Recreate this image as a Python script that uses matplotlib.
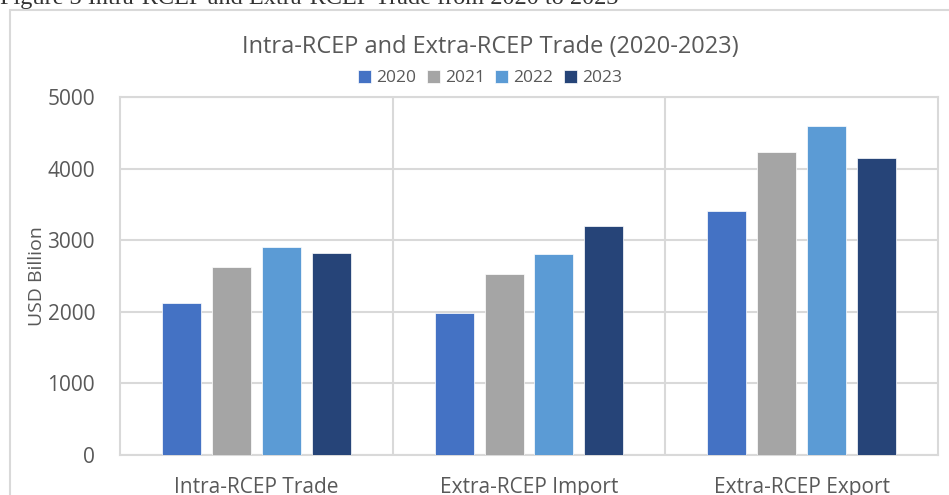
import numpy as np
import matplotlib.pyplot as plt
from matplotlib.patches import Rectangle

categories = ['Intra-RCEP Trade', 'Extra-RCEP Import', 'Extra-RCEP Export']
years = ['2020', '2021', '2022', '2023']
v2020 = [2120, 1980, 3410]
v2021 = [2630, 2530, 4225]
v2022 = [2910, 2810, 4600]
v2023 = [2815, 3205, 4150]
colors = ['#4472C4', '#A5A5A5', '#5B9BD5', '#264478']

plt.rcParams['font.family'] = ['Open Sans', 'DejaVu Sans']
txt = '#595959'
grid = '#D9D9D9'

fig = plt.figure(figsize=(9.49, 4.95), dpi=100)
W, H = 949, 495

# chart frame
fig.patches.append(Rectangle((10 / W, -0.1), 1.2, 1 - 10 / H + 0.1, transform=fig.transFigure,
                             fill=False, edgecolor=grid, linewidth=1.5))
# figure caption (cut off at top)
fig.text(0.0, 1 - 4 / H, 'Figure 3 Intra-RCEP and Extra-RCEP Trade from 2020 to 2023',
         family='Liberation Serif', fontsize=17.5, color='#333333', ha='left', va='baseline')

ax = fig.add_axes([120 / W, 40 / H, 818 / W, 358 / H])
x = np.arange(len(categories))
width = 0.143
step = 0.183
for i, vals in enumerate([v2020, v2021, v2022, v2023]):
    ax.bar(x + (i - 1.5) * step, vals, width, color=colors[i], label=years[i],
           edgecolor='white', linewidth=0.5, zorder=3)

ax.set_xlim(-0.5, 2.5)
ax.set_ylim(0, 5000)
ax.set_yticks(range(0, 5001, 1000))
ax.set_xticks(x)
ax.set_xticklabels(categories)
ax.set_xticks([0.5, 1.5], minor=True)
ax.grid(axis='y', color=grid, linewidth=1.5, zorder=0)
ax.grid(axis='x', which='minor', color=grid, linewidth=1.5, zorder=0)
ax.tick_params(which='both', length=0)
ax.tick_params(axis='y', labelsize=15, colors=txt, pad=18)
ax.tick_params(axis='x', labelsize=15, colors=txt, pad=16)
for s in ax.spines.values():
    s.set_color(grid)
    s.set_linewidth(1.5)
ax.set_ylabel('USD Billion', fontsize=14, color=txt, labelpad=1)

fig.text(490 / W, 1 - 47 / H, 'Intra-RCEP and Extra-RCEP Trade (2020-2023)',
         fontsize=17, color=txt, ha='center', va='center')
fig.legend(loc='center', bbox_to_anchor=(490 / W, 1 - 78 / H), ncol=4, frameon=False,
           fontsize=12.5, labelcolor=txt, handlelength=0.75, handleheight=0.75,
           handletextpad=0.3, columnspacing=0.6)

fig.savefig('out.png', dpi=100)
